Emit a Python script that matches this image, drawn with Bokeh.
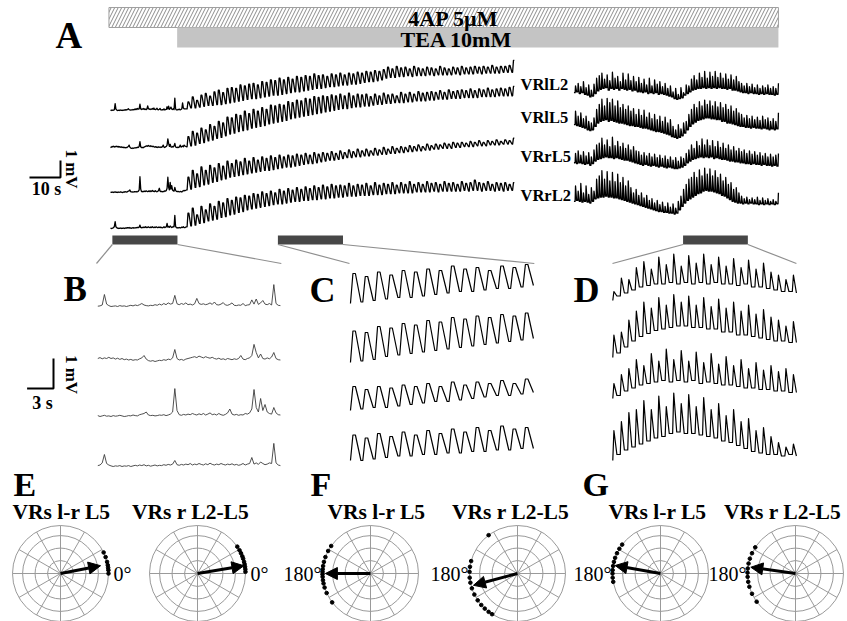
import numpy as np
from bokeh.plotting import figure
from bokeh.models import Range1d, Arrow, NormalHead
from bokeh.core.properties import value
from bokeh.embed import file_html
from bokeh.resources import INLINE

# ---------------------------------------------------------------------------
# Ventral-root recordings (mV, relative to the resting level of each root)
# ---------------------------------------------------------------------------
CHANNELS = ["VRlL2", "VRlL5", "VRrL5", "VRrL2"]

# control period before TEA: one sample every 0.25 s, t = 0 ... 24 s
PRE_DT = 0.25
pre_vrll2 = [0.02, 0.0, 0.03, 0.01, 0.02, 0.05, 0.4, 0.08,
             0.03, 0.0, 0.01, 0.02, 0.0, 0.03, 0.01, 0.02,
             0.0, 0.02, 0.04, 0.02, 0.05, 0.03, 0.06, 0.1,
             0.05, 0.03, 0.02, 0.04, 0.03, 0.06, 0.04, 0.08,
             0.05, 0.1, 0.06, 0.12, 0.08, 0.1, 0.37, 0.09,
             0.06, 0.1, 0.07, 0.12, 0.06, 0.08, 0.05, 0.09,
             0.27, 0.1, 0.07, 0.09, 0.06, 0.08, 0.12, 0.07,
             0.15, 0.06, 0.05, 0.08, 0.13, 0.05, 0.04, 0.07,
             0.12, 0.04, 0.03, 0.05, 0.04, 0.1, 0.03, 0.05,
             0.06, 0.22, 0.08, 0.25, 0.07, 0.12, 0.2, 0.08,
             0.06, 0.1, 0.05, 0.73, 0.1, 0.04, 0.03, 0.06,
             0.05, 0.08, 0.04, 0.06, 0.1, 0.45, 0.15, 0.1,
             0.1]
pre_vrll5 = [0.05, 0.08, 0.12, 0.1, 0.13, 0.09, 0.12, 0.1,
             0.14, 0.1, 0.12, 0.08, 0.11, 0.07, 0.1, 0.06,
             0.08, 0.05, 0.07, 0.04, 0.06, 0.05, 0.09, 0.12,
             0.2, 0.08, 0.03, 0.01, 0.03, 0.0, 0.02, 0.04,
             0.03, 0.06, 0.04, 0.08, 0.06, 0.12, 0.4, 0.1,
             0.05, 0.07, 0.04, 0.08, 0.1, 0.12, 0.14, 0.16,
             0.13, 0.18, 0.15, 0.12, 0.16, 0.13, 0.11, 0.14,
             0.1, 0.08, 0.11, 0.07, 0.09, 0.06, 0.1, 0.08,
             0.06, 0.09, 0.07, 0.1, 0.2, 0.08, 0.06, 0.1,
             0.12, 0.2, 0.57, 0.3, 0.12, 0.25, 0.1, 0.08,
             0.12, 0.09, 0.15, 0.3, 0.1, 0.06, 0.05, 0.08,
             0.06, 0.1, 0.2, 0.08, 0.12, 0.15, 0.1, 0.2,
             0.15]
pre_vrrl5 = [0.0, 0.02, 0.01, 0.03, 0.0, 0.02, 0.04, 0.01,
             0.02, 0.0, 0.03, 0.01, 0.02, 0.04, 0.02, 0.0,
             0.01, 0.03, 0.02, 0.05, 0.03, 0.02, 0.06, 0.08,
             0.1, 0.15, 0.05, 0.03, 0.04, 0.02, 0.03, 0.05,
             0.04, 0.06, 0.03, 0.05, 0.08, 0.15, 0.93, 0.2,
             0.06, 0.04, 0.07, 0.05, 0.08, 0.06, 0.1, 0.07,
             0.05, 0.09, 0.06, 0.1, 0.05, 0.08, 0.12, 0.06,
             0.08, 0.05, 0.1, 0.06, 0.04, 0.07, 0.12, 0.25,
             0.08, 0.05, 0.07, 0.04, 0.06, 0.05, 0.1, 0.08,
             0.12, 0.25, 0.9, 0.3, 0.15, 0.6, 0.2, 0.4,
             0.15, 0.1, 0.08, 0.3, 0.12, 0.06, 0.05, 0.07,
             0.05, 0.04, 0.06, 0.05, 0.03, 0.08, 0.1, 0.12,
             0.1]
pre_vrrl2 = [0.02, 0.0, 0.01, 0.03, 0.05, 0.12, 0.4, 0.1,
             0.05, 0.02, 0.0, 0.02, 0.01, 0.03, 0.0, 0.02,
             0.01, 0.03, 0.0, 0.02, 0.04, 0.02, 0.05, 0.03,
             0.06, 0.02, 0.04, 0.01, 0.03, 0.05, 0.02, 0.04,
             0.03, 0.06, 0.04, 0.07, 0.05, 0.08, 0.2, 0.06,
             0.04, 0.07, 0.05, 0.08, 0.06, 0.1, 0.05, 0.08,
             0.06, 0.1, 0.07, 0.05, 0.09, 0.06, 0.11, 0.07,
             0.05, 0.08, 0.06, 0.1, 0.07, 0.05, 0.08, 0.06,
             0.09, 0.05, 0.07, 0.04, 0.06, 0.1, 0.05, 0.08,
             0.1, 0.3, 0.08, 0.12, 0.07, 0.15, 0.1, 0.06,
             0.08, 0.12, 0.1, 0.77, 0.12, 0.05, 0.03, 0.05,
             0.04, 0.06, 0.03, 0.05, 0.08, 0.06, 0.1, 0.05,
             0.05]

# after TEA: trough and peak of every locomotor-like cycle (period 1.4 s)
OSC_T0, OSC_PERIOD = 24.5, 1.4
osc_trough_vrll2 = [0.1, 0.15, 0.15, 0.2, 0.25, 0.3, 0.3, 0.35, 0.35, 0.4,
                    0.45, 0.5, 0.55, 0.6, 0.65, 0.7, 0.7, 0.75, 0.8, 0.85,
                    0.9, 0.9, 0.95, 1.0, 1.05, 1.1, 1.1, 1.15, 1.2, 1.25,
                    1.3, 1.3, 1.35, 1.4, 1.4, 1.45, 1.5, 1.5, 1.55, 1.55,
                    1.6, 1.65, 1.7, 1.7, 1.75, 1.8, 1.9, 1.95, 1.95, 2.0,
                    2.0, 2.05, 2.0, 2.05, 2.05, 2.05, 2.1, 2.05, 2.1, 2.1,
                    2.1, 2.1, 2.15, 2.1, 2.15, 2.15, 2.15, 2.2, 2.15, 2.2,
                    2.2, 2.2, 2.2, 2.25, 2.25, 2.25]
osc_peak_vrll2 = [0.5, 0.8, 0.6, 0.9, 1.0, 0.85, 1.1, 1.2, 1.05, 1.3,
                  1.35, 1.3, 1.5, 1.45, 1.55, 1.6, 1.5, 1.7, 1.65, 1.8,
                  1.75, 1.9, 1.8, 1.95, 1.85, 2.0, 1.95, 2.05, 2.0, 2.15,
                  2.05, 2.1, 2.0, 2.15, 2.1, 2.2, 2.1, 2.2, 2.15, 2.25,
                  2.2, 2.3, 2.25, 2.35, 2.3, 2.4, 2.55, 2.45, 2.6, 2.5,
                  2.55, 2.45, 2.6, 2.5, 2.45, 2.55, 2.5, 2.45, 2.6, 2.5,
                  2.45, 2.55, 2.5, 2.6, 2.5, 2.55, 2.6, 2.55, 2.6, 2.55,
                  2.65, 2.55, 2.6, 2.6, 2.65, 2.95]
osc_trough_vrll5 = [0.1, 0.15, 0.2, 0.3, 0.35, 0.45, 0.5, 0.6, 0.65, 0.75,
                    0.85, 0.9, 1.0, 1.05, 1.1, 1.2, 1.25, 1.3, 1.35, 1.45,
                    1.5, 1.55, 1.6, 1.65, 1.75, 1.8, 1.85, 1.9, 1.95, 2.0,
                    2.05, 2.1, 2.15, 2.2, 2.25, 2.3, 2.35, 2.35, 2.4, 2.45,
                    2.45, 2.5, 2.5, 2.55, 2.6, 2.6, 2.65, 2.65, 2.7, 2.7,
                    2.7, 2.75, 2.75, 2.8, 2.8, 2.8, 2.85, 2.85, 2.9, 2.9,
                    2.9, 2.95, 2.95, 2.95, 3.0, 3.0, 3.0, 3.0, 3.05, 3.05,
                    3.05, 3.05, 3.1, 3.1, 3.1, 3.1]
osc_peak_vrll5 = [0.7, 1.0, 0.9, 1.2, 1.1, 1.4, 1.3, 1.6, 1.5, 1.85,
                  1.8, 2.0, 1.95, 2.2, 2.05, 2.3, 2.2, 2.4, 2.3, 2.55,
                  2.5, 2.6, 2.55, 2.75, 2.7, 2.85, 2.8, 2.95, 2.9, 3.05,
                  3.0, 3.1, 3.05, 3.15, 3.1, 3.2, 3.1, 3.25, 3.1, 3.2,
                  3.15, 3.2, 3.05, 3.2, 3.1, 3.25, 3.15, 3.2, 3.1, 3.3,
                  3.2, 3.3, 3.2, 3.35, 3.25, 3.3, 3.35, 3.3, 3.4, 3.3,
                  3.45, 3.35, 3.4, 3.45, 3.4, 3.5, 3.4, 3.5, 3.45, 3.55,
                  3.45, 3.5, 3.55, 3.5, 3.6, 3.65]
osc_trough_vrrl5 = [0.15, 0.2, 0.3, 0.35, 0.45, 0.5, 0.6, 0.65, 0.75, 0.8,
                    0.9, 0.95, 1.0, 1.05, 1.1, 1.15, 1.2, 1.25, 1.3, 1.3,
                    1.35, 1.4, 1.45, 1.5, 1.5, 1.55, 1.6, 1.65, 1.7, 1.7,
                    1.75, 1.8, 1.85, 1.9, 1.9, 1.95, 2.0, 2.05, 2.05, 2.1,
                    2.1, 2.15, 2.15, 2.2, 2.2, 2.25, 2.25, 2.3, 2.3, 2.35,
                    2.35, 2.4, 2.4, 2.45, 2.45, 2.5, 2.5, 2.55, 2.55, 2.6,
                    2.6, 2.6, 2.65, 2.65, 2.7, 2.7, 2.7, 2.75, 2.75, 2.75,
                    2.8, 2.8, 2.8, 2.85, 2.85, 2.85]
osc_peak_vrrl5 = [0.9, 1.3, 1.1, 1.5, 1.3, 1.6, 1.45, 1.7, 1.55, 1.85,
                  1.7, 1.9, 1.8, 2.0, 1.85, 2.05, 1.9, 2.1, 2.0, 2.15,
                  2.05, 2.2, 2.1, 2.2, 2.15, 2.25, 2.2, 2.3, 2.2, 2.35,
                  2.25, 2.35, 2.3, 2.4, 2.3, 2.45, 2.35, 2.5, 2.4, 2.55,
                  2.45, 2.55, 2.45, 2.6, 2.5, 2.65, 2.55, 2.7, 2.6, 2.7,
                  2.65, 2.75, 2.7, 2.8, 2.7, 2.85, 2.75, 2.85, 2.8, 2.9,
                  2.85, 2.95, 2.9, 2.95, 2.9, 3.0, 2.95, 3.05, 2.95, 3.05,
                  3.0, 3.1, 3.0, 3.1, 3.05, 3.2]
osc_trough_vrrl2 = [0.1, 0.15, 0.2, 0.3, 0.35, 0.45, 0.5, 0.55, 0.65, 0.7,
                    0.8, 0.85, 0.95, 1.0, 1.1, 1.15, 1.2, 1.25, 1.3, 1.35,
                    1.4, 1.45, 1.45, 1.5, 1.55, 1.6, 1.6, 1.65, 1.65, 1.7,
                    1.7, 1.75, 1.75, 1.8, 1.8, 1.85, 1.85, 1.9, 1.9, 1.9,
                    1.95, 1.95, 1.95, 2.0, 2.0, 2.0, 2.05, 2.05, 2.05, 2.1,
                    2.1, 2.1, 2.1, 2.15, 2.15, 2.15, 2.15, 2.2, 2.15, 2.2,
                    2.2, 2.2, 2.2, 2.2, 2.25, 2.2, 2.25, 2.25, 2.2, 2.25,
                    2.25, 2.2, 2.25, 2.2, 2.25, 2.25]
osc_peak_vrrl2 = [0.9, 1.2, 0.8, 1.3, 1.1, 1.45, 1.3, 1.6, 1.5, 1.75,
                  1.65, 1.85, 1.8, 1.95, 1.9, 2.05, 2.0, 2.15, 2.05, 2.2,
                  2.1, 2.3, 2.2, 2.35, 2.25, 2.4, 2.3, 2.45, 2.35, 2.5,
                  2.4, 2.55, 2.45, 2.6, 2.5, 2.55, 2.5, 2.65, 2.5, 2.6,
                  2.55, 2.65, 2.5, 2.7, 2.55, 2.65, 2.6, 2.7, 2.55, 2.7,
                  2.6, 2.75, 2.6, 2.7, 2.6, 2.75, 2.65, 2.7, 2.6, 2.75,
                  2.65, 2.7, 2.6, 2.75, 2.65, 2.7, 2.85, 2.7, 2.65, 2.75,
                  2.6, 2.7, 2.65, 2.7, 2.6, 2.7]

# late block of the same recording: cycles of 0.85 s, first trough at 149.5 s
LATE_T0, LATE_PERIOD = 149.5, 0.85
late_trough_vrll2 = [1.05, 1.1, 1.0, 1.05, 0.95, 0.9, 0.8, 0.85, 1.0, 1.15,
                     1.25, 1.3, 1.35, 1.2, 1.3, 1.25, 1.3, 1.2, 1.3, 1.25,
                     1.2, 1.25, 1.15, 1.2, 1.1, 1.1, 1.05, 1.1, 1.0, 1.05,
                     1.0, 1.05, 0.95, 1.0, 0.95, 0.9, 0.85, 0.8, 0.7, 0.65,
                     0.7, 0.75, 0.9, 1.0, 1.1, 1.2, 1.25, 1.3, 1.3, 1.35,
                     1.3, 1.35, 1.3, 1.35, 1.3, 1.35, 1.3, 1.3, 1.25, 1.3,
                     1.2, 1.2, 1.15, 1.1, 1.05, 1.05, 1.0, 1.05, 1.0, 1.0,
                     0.95, 1.0, 0.95, 1.0, 0.95, 0.95, 0.9, 0.95]
late_peak_vrll2 = [1.45, 1.6, 1.4, 1.7, 1.35, 1.5, 1.2, 1.55, 1.9, 2.05,
                   2.2, 1.85, 2.1, 1.75, 2.25, 1.9, 2.0, 1.7, 2.2, 1.8,
                   2.15, 1.75, 2.0, 1.7, 1.95, 1.6, 1.85, 1.5, 1.9, 1.45,
                   1.8, 1.55, 1.7, 1.4, 1.6, 1.3, 1.45, 1.1, 1.3, 0.95,
                   1.35, 1.05, 1.5, 1.45, 1.85, 2.05, 1.8, 2.2, 1.95, 2.3,
                   1.9, 2.25, 2.0, 2.3, 1.95, 2.2, 1.9, 2.15, 1.85, 2.1,
                   1.8, 2.0, 1.7, 1.6, 1.45, 1.6, 1.4, 1.55, 1.35, 1.5,
                   1.3, 1.45, 1.35, 1.5, 1.3, 1.4, 1.3, 1.6]
late_trough_vrll5 = [1.4, 1.35, 1.3, 1.25, 1.2, 1.1, 1.05, 1.1, 1.3, 1.5,
                     1.6, 1.65, 1.7, 1.6, 1.65, 1.6, 1.55, 1.5, 1.5, 1.45,
                     1.4, 1.35, 1.35, 1.3, 1.3, 1.25, 1.2, 1.2, 1.15, 1.1,
                     1.05, 1.0, 1.0, 0.95, 0.9, 0.85, 0.8, 0.7, 0.65, 0.6,
                     0.65, 0.75, 0.9, 1.1, 1.3, 1.45, 1.55, 1.65, 1.7, 1.75,
                     1.8, 1.8, 1.75, 1.75, 1.7, 1.7, 1.6, 1.6, 1.5, 1.5,
                     1.45, 1.4, 1.35, 1.3, 1.3, 1.25, 1.25, 1.2, 1.25, 1.2,
                     1.2, 1.15, 1.2, 1.15, 1.1, 1.15, 1.1, 1.15]
late_peak_vrll5 = [2.2, 1.9, 2.1, 1.75, 1.9, 1.6, 1.5, 1.8, 2.3, 2.6,
                   2.9, 2.5, 2.95, 2.7, 2.9, 2.5, 2.8, 2.4, 2.6, 2.3,
                   2.5, 2.2, 2.35, 2.0, 2.3, 1.95, 2.25, 1.85, 2.1, 1.75,
                   2.0, 1.7, 1.9, 1.6, 1.85, 1.5, 1.7, 1.3, 1.1, 1.4,
                   1.15, 1.5, 1.6, 2.0, 2.3, 2.6, 2.4, 2.75, 2.5, 2.85,
                   2.6, 2.8, 2.5, 2.75, 2.45, 2.7, 2.4, 2.6, 2.3, 2.5,
                   2.2, 2.35, 2.1, 2.0, 1.8, 1.95, 1.75, 1.9, 1.7, 1.85,
                   1.65, 1.9, 1.7, 1.8, 1.6, 1.75, 1.6, 2.1]
late_trough_vrrl5 = [1.75, 1.7, 1.75, 1.7, 1.65, 1.7, 1.6, 1.7, 1.85, 1.95,
                     2.0, 2.05, 2.1, 2.05, 2.05, 2.0, 2.05, 2.0, 1.95, 1.9,
                     1.9, 1.85, 1.8, 1.75, 1.7, 1.65, 1.6, 1.65, 1.6, 1.55,
                     1.6, 1.55, 1.5, 1.55, 1.5, 1.45, 1.5, 1.45, 1.4, 1.4,
                     1.45, 1.5, 1.6, 1.75, 1.85, 1.95, 2.0, 2.05, 2.1, 2.05,
                     2.1, 2.05, 2.1, 2.0, 2.05, 2.0, 1.95, 1.95, 1.9, 1.85,
                     1.85, 1.8, 1.8, 1.75, 1.75, 1.7, 1.7, 1.65, 1.7, 1.65,
                     1.65, 1.6, 1.65, 1.6, 1.6, 1.55, 1.6, 1.55]
late_peak_vrrl5 = [2.3, 2.45, 2.2, 2.4, 2.15, 2.35, 2.1, 2.5, 2.8, 2.9,
                   3.2, 2.8, 3.1, 2.7, 3.25, 2.75, 3.0, 2.7, 2.9, 2.6,
                   2.8, 2.5, 2.7, 2.45, 2.4, 2.2, 2.35, 2.15, 2.3, 2.1,
                   2.25, 2.05, 2.2, 2.0, 2.15, 1.95, 2.1, 1.9, 2.05, 1.85,
                   2.1, 2.0, 2.3, 2.5, 2.8, 2.6, 3.0, 2.75, 3.15, 2.8,
                   3.1, 2.75, 3.05, 2.7, 3.0, 2.65, 2.9, 2.6, 2.8, 2.5,
                   2.7, 2.45, 2.6, 2.4, 2.5, 2.3, 2.45, 2.25, 2.4, 2.2,
                   2.35, 2.15, 2.3, 2.1, 2.25, 2.1, 2.2, 2.3]
late_trough_vrrl2 = [1.6, 1.65, 1.6, 1.55, 1.6, 1.55, 1.5, 1.6, 1.75, 1.8,
                     1.85, 1.85, 1.9, 1.85, 1.85, 1.8, 1.8, 1.75, 1.7, 1.65,
                     1.6, 1.55, 1.5, 1.45, 1.4, 1.35, 1.3, 1.25, 1.2, 1.15,
                     1.1, 1.05, 1.0, 1.0, 0.95, 0.95, 0.9, 0.9, 0.85, 0.9,
                     1.1, 1.3, 1.5, 1.65, 1.75, 1.85, 1.95, 2.05, 2.1, 2.2,
                     2.25, 2.2, 2.2, 2.15, 2.1, 2.05, 1.95, 1.9, 1.8, 1.7,
                     1.6, 1.55, 1.5, 1.5, 1.45, 1.5, 1.45, 1.5, 1.45, 1.45,
                     1.4, 1.45, 1.4, 1.45, 1.4, 1.45, 1.4, 1.45]
late_peak_vrrl2 = [2.5, 2.2, 2.65, 2.1, 2.5, 2.0, 2.4, 2.2, 2.9, 3.1,
                   3.4, 2.9, 3.35, 2.8, 3.3, 2.75, 3.2, 2.7, 3.0, 2.5,
                   2.8, 2.4, 2.1, 2.3, 1.95, 2.1, 1.8, 1.95, 1.65, 1.75,
                   1.5, 1.65, 1.4, 1.55, 1.3, 1.5, 1.25, 1.45, 1.2, 1.6,
                   1.9, 2.3, 2.6, 2.9, 3.0, 3.3, 3.0, 3.45, 3.1, 3.55,
                   3.2, 3.5, 3.1, 3.4, 3.0, 3.2, 2.8, 3.0, 2.6, 2.7,
                   2.3, 2.4, 2.1, 1.9, 1.75, 1.85, 1.7, 1.8, 1.7, 1.85,
                   1.65, 1.8, 1.65, 1.75, 1.6, 1.7, 1.6, 2.1]

# drug application (s on the recording time axis)
drug_labels = ["4AP 5\u00b5M", "TEA 10mM"]
drug_on = [-0.5, 21.5]

# time windows expanded in B, C and D (s)
zoom_letters = ["B", "C", "D"]
zoom_windows = [(0.6, 21.6), (54.0, 75.0), (184.7, 205.6)]

# phase analysis (E, F, G): circular plots of burst phase
polar_letters = ["E", "F", "G"]
polar_titles = ["VRs l-r L5", "VRs r L2-L5"] * 3
polar_ref_labels = ["0\u00b0", "0\u00b0", "180\u00b0", "180\u00b0", "180\u00b0", "180\u00b0"]
arrow_angle_deg = [11, 9.5, 180, 195, 170, 172]
arrow_length = [0.85, 0.98, 0.94, 0.95, 0.96, 0.94]
phase_dots_deg = [
    [0, 4, 7, 10, 14, 20, 26],
    [2, 5, 8, 11, 14, 18, 21, 25, 29, 34],
    [145, 152, 160, 166, 171, 175, 178, 181, 184, 188, 192, 197, 204, 217],
    [127, 165, 172, 178, 185, 191, 198, 206, 214, 221, 227, 233, 238],
    [143, 149, 155, 161, 166, 171, 176, 180, 185, 190],
    [147, 155, 162, 168, 174, 179, 184, 190, 196, 205, 216],
]
ring_radii = [0.27, 0.53, 0.79, 1.0]
spoke_deg = [0, 30, 60, 90, 120, 150]

# ---------------------------------------------------------------------------
# Page geometry (pixels) and drawing conventions
# ---------------------------------------------------------------------------
W, H = 847, 621
A_X0, A_KX, A_KY = 110.0, 3.1, 17.0          # t=0 position, px per s, px per mV
A_BASE = [110, 148, 192, 228]                 # resting level of each root in A
PANEL_X0 = [96, 349, 612]
PANEL_KX, PANEL_KY = 8.8, 30.0
PANEL_ROWS = [[306, 361, 416, 466], [303, 362, 410, 460], [300, 357, 398, 460]]
POLAR_CX = [60, 197, 370, 517, 660, 795]
POLAR_CY, POLAR_R = 573, 48.0
TITLE_CX = [61, 190, 376, 510, 657, 782]
SERIF = value("Liberation Serif")
GRID = "#9a9a9a"

# where, within one cycle, the trough and the peak level are held
# (fractions of the period): broad bursts early, brief spikes late
EARLY_TROUGH_AT, EARLY_PEAK_AT = (0.0, 0.15), (0.35, 0.55)
LATE_TROUGH_AT, LATE_PEAK_AT = (0.0, 0.45), (0.6,)


def cycles(t0, period, trough, peak, trough_at, peak_at):
    t, v = [], []
    for c, (lo, hi) in enumerate(zip(trough, peak)):
        start = t0 + period * c
        t += [start + f * period for f in trough_at] + [start + f * period for f in peak_at]
        v += [lo] * len(trough_at) + [hi] * len(peak_at)
    return np.array(t), np.array(v)


def early_series(pre, trough, peak):
    t_pre = np.arange(len(pre)) * PRE_DT
    t_c, v_c = cycles(OSC_T0, OSC_PERIOD, trough, peak, EARLY_TROUGH_AT, EARLY_PEAK_AT)
    return np.concatenate([t_pre, t_c]), np.concatenate([pre, v_c])


def late_series(trough, peak):
    return cycles(LATE_T0, LATE_PERIOD, trough, peak, LATE_TROUGH_AT, LATE_PEAK_AT)


early = {
    "VRlL2": early_series(pre_vrll2, osc_trough_vrll2, osc_peak_vrll2),
    "VRlL5": early_series(pre_vrll5, osc_trough_vrll5, osc_peak_vrll5),
    "VRrL5": early_series(pre_vrrl5, osc_trough_vrrl5, osc_peak_vrrl5),
    "VRrL2": early_series(pre_vrrl2, osc_trough_vrrl2, osc_peak_vrrl2),
}
late = {
    "VRlL2": late_series(late_trough_vrll2, late_peak_vrll2),
    "VRlL5": late_series(late_trough_vrll5, late_peak_vrll5),
    "VRrL5": late_series(late_trough_vrrl5, late_peak_vrrl5),
    "VRrL2": late_series(late_trough_vrrl2, late_peak_vrrl2),
}
rec_end = float(late["VRlL2"][0][-1])


def x_scale_range(t_ref, px, kx):
    return Range1d(start=t_ref - px / kx, end=t_ref + (W - px) / kx)


def y_scale_range(v_ref, py, ky):
    return Range1d(start=v_ref - (H - py) / ky, end=v_ref + py / ky)


# ranges: one time scale per panel, one voltage scale per trace
xr, yr = {"A": x_scale_range(0.0, A_X0, A_KX)}, {}
for i in range(4):
    yr[f"A{i}"] = y_scale_range(0.0, A_BASE[i], A_KY)
panel_traces = []
for j, (ws, we) in enumerate(zoom_windows):
    xr[f"Z{j}"] = x_scale_range(ws, PANEL_X0[j], PANEL_KX)
    for i, ch in enumerate(CHANNELS):
        t, v = early[ch] if j < 2 else late[ch]
        m = (t >= ws) & (t <= we)
        yr[f"Z{j}{i}"] = y_scale_range(float(v[m].min()), PANEL_ROWS[j][i], PANEL_KY)
        panel_traces.append((j, i, t[m], v[m]))
for n in range(6):
    xr[f"P{n}"] = x_scale_range(0.0, POLAR_CX[n], POLAR_R)
    yr[f"P{n}"] = y_scale_range(0.0, POLAR_CY, POLAR_R)

p = figure(width=W, height=H, x_range=Range1d(0, W), y_range=Range1d(H, 0),
           x_axis_type=None, y_axis_type=None, toolbar_location=None,
           output_backend="svg", min_border=0, outline_line_color=None)
p.background_fill_color = "white"
p.border_fill_color = "white"
p.extra_x_ranges = xr
p.extra_y_ranges = yr


def label(x, y, txt, size, align="left", bold=True, angle=0.0):
    p.text(x=[x], y=[y], text=[txt], text_font=SERIF, text_font_size=value(f"{size}px"),
           text_font_style="bold" if bold else "normal", text_align=align,
           text_baseline="middle", angle=angle, text_color="black")


# ---- A: drug bars --------------------------------------------------------
p.quad(left=[drug_on[0]], right=[rec_end], top=[7], bottom=[27], x_range_name="A",
       fill_color="white", hatch_pattern="/", hatch_color="#8c8c8c", hatch_scale=7,
       hatch_weight=1, line_color="#a0a0a0", line_width=1)
p.quad(left=[drug_on[1]], right=[rec_end], top=[27], bottom=[47], x_range_name="A",
       fill_color="#c4c4c4", line_color=None)
label(453, 18, drug_labels[0], 22, align="center")
label(456, 38.5, drug_labels[1], 22, align="center")

# ---- A: traces -------------------------------------------------------------
for i, ch in enumerate(CHANNELS):
    for t, v in (early[ch], late[ch]):
        p.line(t, v, x_range_name="A", y_range_name=f"A{i}", line_color="black",
               line_width=1.3, line_join="round")
for i, ch in enumerate(CHANNELS):
    label(520, [84, 116.5, 156, 195][i], ch, 16.5)

label(55, 34.5, "A", 37)

# scale bar for A: 10 s and 1 mV
p.line([60 - 10 * A_KX, 60, 60], [177, 177, 177 - A_KY], line_color="black", line_width=2)
label(46, 188.5, "10 s", 18, align="center")
label(70.5, 168.5, "1 mV", 17, align="center", angle=-np.pi / 2)

# ---- windows and connectors ----------------------------------------------
for j, (ws, we) in enumerate(zoom_windows):
    p.quad(left=[ws], right=[we], top=[235], bottom=[244], x_range_name="A",
           fill_color="#474747", line_color=None)
    xa0, xa1 = A_X0 + A_KX * ws, A_X0 + A_KX * we
    xp0, xp1 = PANEL_X0[j], PANEL_X0[j] + PANEL_KX * (we - ws)
    p.segment(x0=[xa0, xa1], y0=[244, 244], x1=[xp0, xp1], y1=[263, 263],
              line_color="#8f8f8f", line_width=1.2)

# ---- B, C, D ---------------------------------------------------------------
for j, i, t, v in panel_traces:
    color, lw = ("#3c3c3c", 0.9) if j == 0 else ("black", 1.2)
    p.line(t, v, x_range_name=f"Z{j}", y_range_name=f"Z{j}{i}", line_color=color,
           line_width=lw, line_join="round")
label(63, 289, zoom_letters[0], 35)
label(309, 289.5, zoom_letters[1], 36)
label(573, 289.5, zoom_letters[2], 36)

# scale bar for B-D: 3 s and 1 mV
p.line([53 - 3 * PANEL_KX, 53, 53], [388, 388, 388 - PANEL_KY], line_color="black", line_width=2)
label(42, 402.5, "3 s", 18, align="center")
label(70.5, 374, "1 mV", 17, align="center", angle=-np.pi / 2)

# ---- E, F, G: phase plots ------------------------------------------------
for k, xl in enumerate([13, 310, 582]):
    label(xl, 484, polar_letters[k], 34)
sp = np.deg2rad(spoke_deg)
for n in range(6):
    rn = f"P{n}"
    p.circle(x=[0.0] * len(ring_radii), y=[0.0] * len(ring_radii), radius=ring_radii,
             fill_color=None, line_color=GRID, line_width=1, x_range_name=rn, y_range_name=rn)
    p.segment(x0=-np.cos(sp), y0=-np.sin(sp), x1=np.cos(sp), y1=np.sin(sp),
              line_color=GRID, line_width=1, x_range_name=rn, y_range_name=rn)
    a = np.deg2rad(phase_dots_deg[n])
    p.scatter(np.cos(a), np.sin(a), size=3.6, color="black", x_range_name=rn, y_range_name=rn)
    aa = np.deg2rad(arrow_angle_deg[n])
    p.add_layout(Arrow(end=NormalHead(size=12, fill_color="black", line_color="black"),
                       x_start=0.0, y_start=0.0,
                       x_end=float(arrow_length[n] * np.cos(aa)),
                       y_end=float(arrow_length[n] * np.sin(aa)),
                       line_width=3, line_color="black", x_range_name=rn, y_range_name=rn))
    label(TITLE_CX[n], 511, polar_titles[n], 21.5, align="center")
    if polar_ref_labels[n].startswith("0"):
        label(POLAR_CX[n] + POLAR_R + 5, 573, polar_ref_labels[n], 20, bold=False)
    else:
        label(POLAR_CX[n] - POLAR_R - 1, 573, polar_ref_labels[n], 20, align="right", bold=False)

open("out.html", "w").write(file_html(p, INLINE, title="Ventral root recordings"))
